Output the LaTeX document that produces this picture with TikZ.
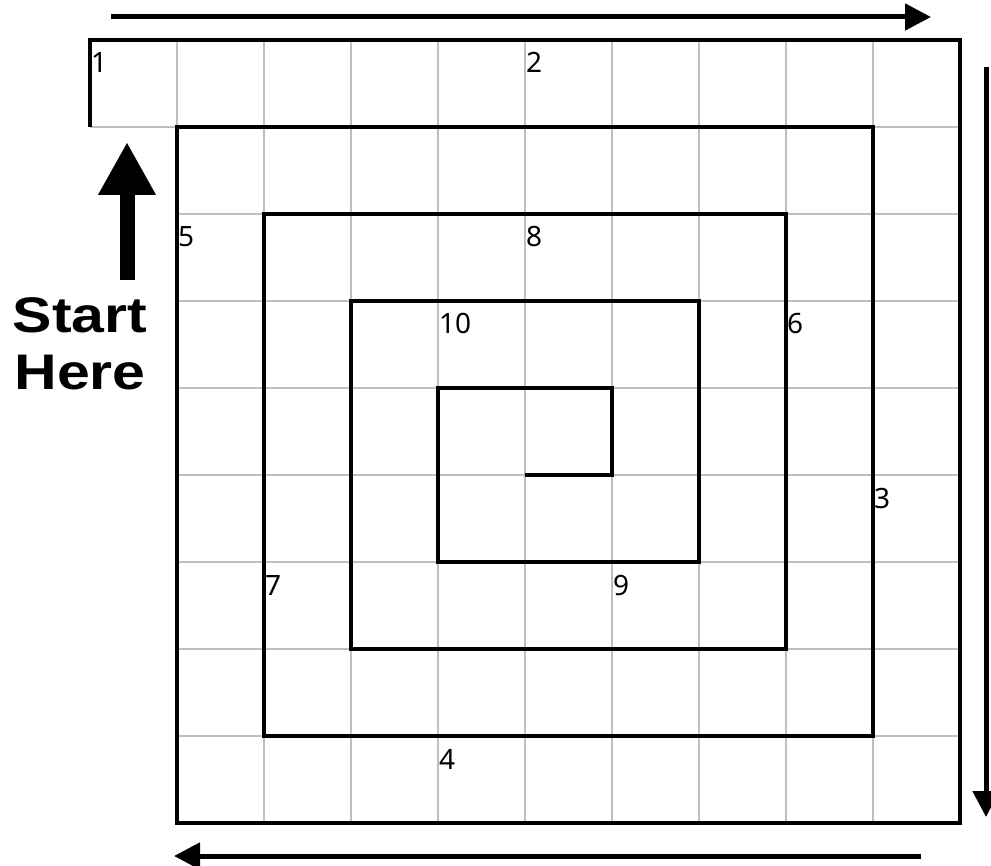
\documentclass[tikz,border=0pt]{standalone}
\usepackage{fontspec}
\setmainfont{Noto Sans}
\newfontfamily\startfont{Liberation Sans}
\usetikzlibrary{arrows.meta}
\tikzset{
  gridline/.style={draw=black!25, line width=1.8pt},
  spiral/.style={draw=black, line width=3.2pt, line join=miter},
  dirarrow/.style={draw=black, line width=5pt, -{Triangle[length=26pt,width=26pt]}},
  bigarrow/.style={draw=black, line width=15pt, -{Triangle[length=53pt,width=54pt]}},
  numlabel/.style={anchor=base west, inner sep=0pt, font=\fontsize{28}{32}\selectfont},
  starttext/.style={align=center, inner sep=0pt, font=\startfont\bfseries\fontsize{50}{57}\selectfont, xscale=1.18}
}
\begin{document}
\begin{tikzpicture}[x=87pt,y=-87pt]
\useasboundingbox (-90pt,40pt) rectangle (901pt,-826pt);
% light grid
\foreach \i in {1,...,9} \draw[gridline] (\i,0) -- (\i,9);
\draw[gridline] (0,1) -- (10,1);
\foreach \j in {2,...,8} \draw[gridline] (1,\j) -- (10,\j);
% spiral
\coordinate (s0) at (0,1);
\coordinate (s1) at (0,0);
\coordinate (s2) at (10,0);
\coordinate (s3) at (10,9);
\coordinate (s4) at (1,9);
\coordinate (s5) at (1,1);
\coordinate (s6) at (9,1);
\coordinate (s7) at (9,8);
\coordinate (s8) at (2,8);
\coordinate (s9) at (2,2);
\coordinate (s10) at (8,2);
\coordinate (s11) at (8,7);
\coordinate (s12) at (3,7);
\coordinate (s13) at (3,3);
\coordinate (s14) at (7,3);
\coordinate (s15) at (7,6);
\coordinate (s16) at (4,6);
\coordinate (s17) at (4,4);
\coordinate (s18) at (6,4);
\coordinate (s19) at (6,5);
\coordinate (s20) at (5,5);
\draw[spiral] (s0) -- (s1) -- (s2) -- (s3) -- (s4) -- (s5) -- (s6) -- (s7) -- (s8) -- (s9) -- (s10) -- (s11) -- (s12) -- (s13) -- (s14) -- (s15) -- (s16) -- (s17) -- (s18) -- (s19) -- (s20);
% labels
\node[numlabel] (n1) at ([shift={(1pt,-33pt)}]0,0) {1};
\node[numlabel] (n2) at ([shift={(1pt,-33pt)}]5,0) {2};
\node[numlabel] (n3) at ([shift={(1pt,-33pt)}]9,5) {3};
\node[numlabel] (n4) at ([shift={(1pt,-33pt)}]4,8) {4};
\node[numlabel] (n5) at ([shift={(1pt,-33pt)}]1,2) {5};
\node[numlabel] (n6) at ([shift={(1pt,-33pt)}]8,3) {6};
\node[numlabel] (n7) at ([shift={(1pt,-33pt)}]2,6) {7};
\node[numlabel] (n8) at ([shift={(1pt,-33pt)}]5,2) {8};
\node[numlabel] (n9) at ([shift={(1pt,-33pt)}]6,6) {9};
\node[numlabel] (n10) at ([shift={(1pt,-33pt)}]4,3) {10};
% direction arrows
\coordinate (ta) at (21pt,23pt);
\coordinate (tb) at (841pt,23pt);
\coordinate (ra) at (896pt,-27pt);
\coordinate (rb) at (896pt,-777pt);
\coordinate (ba) at (831pt,-816pt);
\coordinate (bb) at (84pt,-816pt);
\draw[dirarrow] (ta) -- (tb);
\draw[dirarrow] (ra) -- (rb);
\draw[dirarrow] (ba) -- (bb);
% start here
\coordinate (sa) at (37pt,-240pt);
\coordinate (sb) at (37pt,-102pt);
\draw[bigarrow] (sa) -- (sb);
\node[starttext, anchor=base] (start) at (-10pt,-350pt) {Start\\Here};
\end{tikzpicture}
\end{document}
